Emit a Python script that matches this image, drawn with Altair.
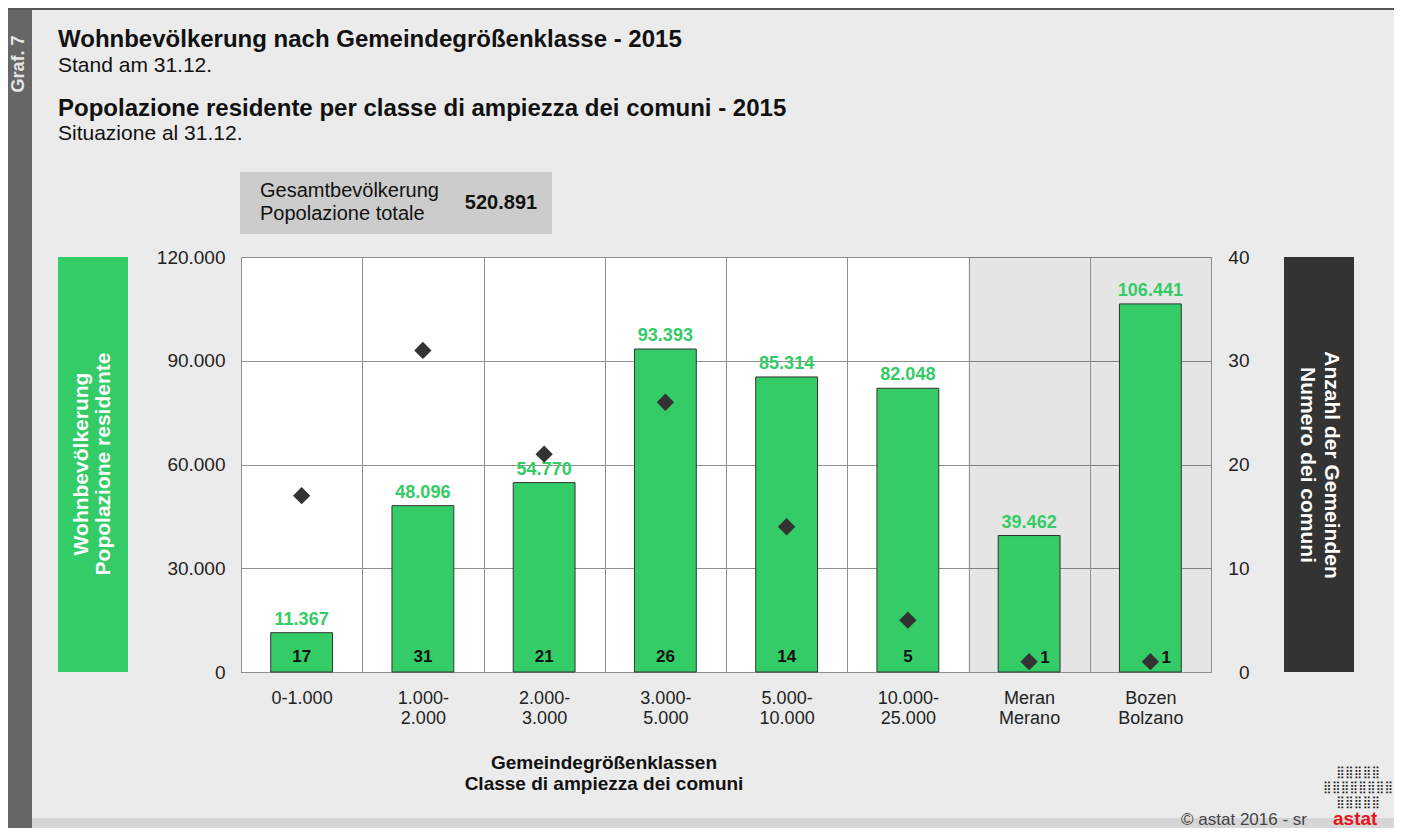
import altair as alt
import pandas as pd

FONT = "Liberation Sans"

# ---------------- data ----------------
categories = ["0-1.000", "1.000-\n2.000", "2.000-\n3.000", "3.000-\n5.000",
              "5.000-\n10.000", "10.000-\n25.000", "Meran\nMerano", "Bozen\nBolzano"]
population = [11367, 48096, 54770, 93393, 85314, 82048, 39462, 106441]
municipalities = [17, 31, 21, 26, 14, 5, 1, 1]
is_city = [False, False, False, False, False, False, True, True]
pop_ticks = [0, 30000, 60000, 90000, 120000]
count_ticks = [0, 10, 20, 30, 40]

title_de = "Wohnbevölkerung nach Gemeindegrößenklasse - 2015"
subtitle_de = "Stand am 31.12."
title_it = "Popolazione residente per classe di ampiezza dei comuni - 2015"
subtitle_it = "Situazione al 31.12."
total_label = ["Gesamtbevölkerung", "Popolazione totale"]
total_value = "520.891"
left_title = ["Wohnbevölkerung", "Popolazione residente"]
right_title = ["Anzahl der Gemeinden", "Numero dei comuni"]
x_title = ["Gemeindegrößenklassen", "Classe di ampiezza dei comuni"]
graf_label = "Graf. 7"
footer = "© astat 2016 - sr"
logo_text = "astat"
logo_dots = ["⣿⣿⣿⣿⣿", "⣿⣿⣿⣿⣿⣿⣿⣿", "⣿⣿⣿⣿⣿"]

df = pd.DataFrame({
    "cat": categories,
    "population": population,
    "count": municipalities,
    "city": is_city,
})

GREEN = "#33cc66"
DARK = "#333333"
BG = "#ebebeb"
GRID = "#8f8f8f"
W, H = 970, 415

# ---------------- encodings ----------------
x_enc = alt.X(
    "cat:N", sort=categories,
    scale=alt.Scale(paddingInner=0, paddingOuter=0),
    axis=alt.Axis(title=None,
                  labelExpr="isValid(datum.value) ? split(datum.value, '\\n') : ''",
                  labelAngle=0, labelFontSize=18, labelColor="#222222", labelFont=FONT,
                  labelLineHeight=20, labelBaseline="top", labelPadding=17,
                  ticks=False, tickSize=0, domain=False, grid=True,
                  gridColor=GRID, gridWidth=1, tickBand="extent", labelOverlap=False),
)

y_left_scale = alt.Scale(domain=[pop_ticks[0], pop_ticks[-1]], nice=False)
y_left_axis = alt.Axis(title=None, values=pop_ticks,
                       labelExpr="replace(format(datum.value, ',.0f'), ',', '.')",
                       labelFontSize=19, labelColor="#222222", labelFont=FONT,
                       labelPadding=16, ticks=False, tickSize=0, domain=False,
                       grid=True, gridColor=GRID, gridWidth=1)
y_right_scale = alt.Scale(domain=[count_ticks[0], count_ticks[-1]], nice=False)
y_right_axis = alt.Axis(orient="right", title=None, values=count_ticks,
                        labelFontSize=19, labelColor="#222222", labelFont=FONT,
                        labelAlign="right", labelPadding=38, ticks=False, tickSize=0,
                        domain=False, grid=False)

base = alt.Chart(df)


def deco_rect(x, x2, y, y2, color):
    return alt.Chart(alt.Data(values=[{}])).mark_rect(color=color).encode(
        x=alt.value(x), x2=alt.value(x2), y=alt.value(y), y2=alt.value(y2))


def deco_text(text, x, y, size, weight="normal", color="#111111", align="left",
              baseline="alphabetic", angle=0, line_height=None, font=FONT):
    kw = dict(text=text, fontSize=size, fontWeight=weight, color=color, align=align,
              baseline=baseline, angle=angle, font=font)
    if line_height is not None:
        kw["lineHeight"] = line_height
    return alt.Chart(alt.Data(values=[{}])).mark_text(**kw).encode(
        x=alt.value(x), y=alt.value(y))


decorations = [
    deco_rect(-233, -209, -249, 571, "#666666"),
    deco_rect(-233, 1153, -249, -247, "#555555"),
    deco_rect(-209, 1153, 561, 571, "#d6d6d6"),
    deco_rect(-1, 311, -85, -23, "#cccccc"),
    deco_rect(-183, -113, 0, H, GREEN),
    deco_rect(1043, 1113, 0, H, DARK),
    # astat logo (stylised dotted map)
    deco_text(logo_dots, 1117, 510, 12, "normal", "#1a1a1a", "center",
              baseline="top", line_height=15, font="DejaVu Sans"),
    deco_text(graf_label, -222, -193, 18, "bold", "#e6e6e6", "center", "middle", 270),
    deco_text(title_de, -183, -210, 24, "bold"),
    deco_text(subtitle_de, -183, -185, 21),
    deco_text(title_it, -183, -141, 24, "bold"),
    deco_text(subtitle_it, -183, -117, 21),
    deco_text(total_label, 19, -60, 20, line_height=23),
    deco_text(total_value, 260, -48, 20, "bold", align="center"),
    deco_text(left_title, -159, 207, 21, "bold", "white", "center", "middle", 270, 22),
    deco_text(right_title, 1090, 208, 21, "bold", "white", "center", "middle", 90, 24),
    deco_text(x_title, 363, 512, 19, "bold", "#111111", "center", line_height=21),
    deco_text(footer, 1066, 568, 17, "normal", "#444444", "right"),
    deco_text(logo_text, 1092, 568, 19, "bold", "#e8141c", "left"),
]

city_bg = base.transform_filter("datum.city").transform_calculate(
    y_top=str(pop_ticks[-1]), y_bottom="0"
).mark_rect(color="black", opacity=0.1).encode(
    x=x_enc,
    y=alt.Y("y_top:Q", scale=y_left_scale, axis=y_left_axis),
    y2="y_bottom:Q",
)

bars = base.mark_bar(width=alt.RelativeBandSize(0.51), color=GREEN,
                     stroke=DARK, strokeWidth=1).encode(
    x=x_enc,
    y=alt.Y("population:Q", scale=y_left_scale, axis=y_left_axis),
)

value_labels = base.transform_calculate(
    lbl="replace(format(datum.population, ',.0f'), ',', '.')"
).mark_text(baseline="alphabetic", dy=-8, fontSize=18, fontWeight="bold",
            color=GREEN, font=FONT).encode(
    x=x_enc,
    y=alt.Y("population:Q", scale=y_left_scale, axis=y_left_axis),
    text="lbl:N",
)

count_labels = base.transform_filter("!datum.city").transform_calculate(
    zero="0"
).mark_text(baseline="alphabetic", dy=-10, fontSize=17, fontWeight="bold",
            color="#111111", font=FONT).encode(
    x=x_enc,
    y=alt.Y("zero:Q", scale=y_left_scale, axis=y_left_axis),
    text="count:Q",
)

left = alt.layer(*decorations, city_bg, bars, value_labels, count_labels)

diamonds = base.mark_point(shape="diamond", filled=True, size=300, color=DARK,
                           opacity=1).encode(
    x=x_enc,
    y=alt.Y("count:Q", scale=y_right_scale, axis=y_right_axis),
)

city_counts = base.transform_filter("datum.city").mark_text(
    align="left", baseline="alphabetic", dx=11, dy=1, fontSize=17, fontWeight="bold",
    color="#111111", font=FONT).encode(
    x=x_enc,
    y=alt.Y("count:Q", scale=y_right_scale, axis=y_right_axis),
    text="count:Q",
)

right = alt.layer(diamonds, city_counts)

chart = alt.layer(left, right).resolve_scale(y="independent").properties(
    width=W, height=H, background=BG,
    padding={"left": 233, "top": 249, "right": 183, "bottom": 156},
    autosize=alt.AutoSizeParams(type="none"),
).configure_view(fill="white", stroke="#555555", strokeWidth=1)

chart.save("out.html", embed_options={"renderer": "svg", "actions": False})
